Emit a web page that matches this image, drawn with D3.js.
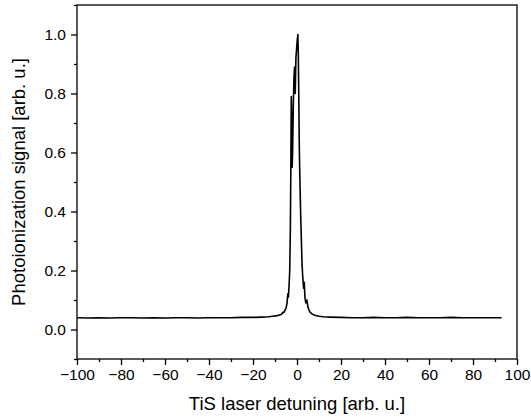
<!DOCTYPE html>
<html>
<head>
<meta charset="utf-8">
<script src="https://cdn.jsdelivr.net/npm/d3@7"></script>
<style>
  html, body { margin: 0; padding: 0; background: #fff; }
  svg { display: block; font-family: "Liberation Sans", Arial, sans-serif; }
</style>
</head>
<body>
<svg id="chart" width="531" height="418"></svg>
<script>
// Detuning (x) and signal (y)
const detuning = [
  -100, -95, -90, -85, -80, -75, -70, -65, -60, -55, -50, -45, -40, -35, -30, -25,
  -20, -16, -13, -11, -9, -8, -7, -6.5, -6, -5.5, -5, -4.5, -4.2, -3.9, -3.6, -3.3,
  -3.0, -2.8, -2.6, -2.4, -2.2, -2.0, -1.7, -1.4, -1.1, -0.8, -0.5, -0.2, 0.1, 0.4,
  0.6, 0.8, 1.0, 1.2, 1.4, 1.7, 2.0, 2.3, 2.6, 3.0, 3.3, 3.6, 4.0, 4.5, 5, 5.5,
  6, 7, 8, 10, 12, 15, 20, 25, 30, 35, 40, 45, 50, 55, 60, 65, 70, 75, 80, 85, 90, 93
];
const signal = [
  0.040, 0.039, 0.040, 0.039, 0.040, 0.040, 0.039, 0.040, 0.039, 0.040, 0.040, 0.039, 0.040, 0.040, 0.040, 0.041,
  0.041, 0.042, 0.043, 0.045, 0.047, 0.049, 0.052, 0.058, 0.057, 0.065, 0.072, 0.090, 0.120, 0.110, 0.150, 0.200,
  0.350, 0.550, 0.790, 0.700, 0.550, 0.600, 0.750, 0.850, 0.890, 0.800, 0.920, 0.950, 0.980, 1.000,
  0.930, 0.800, 0.650, 0.550, 0.480, 0.380, 0.300, 0.220, 0.180, 0.140, 0.160, 0.110, 0.090, 0.100, 0.075, 0.065,
  0.058, 0.052, 0.048, 0.045, 0.043, 0.042, 0.041, 0.040, 0.040, 0.041, 0.040, 0.040, 0.041, 0.040, 0.040, 0.040, 0.041, 0.040, 0.040, 0.040, 0.040, 0.040
];
const xMajorTicks = [-100, -80, -60, -40, -20, 0, 20, 40, 60, 80, 100];
const xMinorTicks = [-90, -70, -50, -30, -10, 10, 30, 50, 70, 90];
const yMajorTicks = [0.0, 0.2, 0.4, 0.6, 0.8, 1.0];
const yMinorTicks = [-0.1, 0.1, 0.3, 0.5, 0.7, 0.9, 1.1];
const xTitle = "TiS laser detuning [arb. u.]";
const yTitle = "Photoionization signal [arb. u.]";

const svg = d3.select("#chart");
const mLeft = 77, mRight = 517, mTop = 5, mBottom = 359;

const x = d3.scaleLinear().domain([-100, 100]).range([mLeft, mRight]);
const y = d3.scaleLinear().domain([-0.1, 1.1]).range([mBottom, mTop]);

// data line
const data = detuning.map((d, i) => [d, signal[i]]);
svg.append("path")
  .datum(data)
  .attr("fill", "none")
  .attr("stroke", "#000")
  .attr("stroke-width", 1.6)
  .attr("stroke-linejoin", "round")
  .attr("d", d3.line().x(d => x(d[0])).y(d => y(d[1])));

// frame
svg.append("rect")
  .attr("x", mLeft).attr("y", mTop)
  .attr("width", mRight - mLeft).attr("height", mBottom - mTop)
  .attr("fill", "none").attr("stroke", "#000").attr("stroke-width", 1.3);

const tickFont = 15.5;
const fam = "Liberation Sans, Arial, sans-serif";

// x axis major
const xAx = svg.append("g").attr("transform", `translate(0,${mBottom})`)
  .call(d3.axisBottom(x).tickValues(xMajorTicks).tickSize(6).tickPadding(4).tickSizeOuter(0));
xAx.select(".domain").remove();
xAx.selectAll("text").attr("font-size", tickFont).attr("font-family", fam).attr("fill", "#000");
xAx.selectAll("line").attr("stroke-width", 1.3);
const xAxm = svg.append("g").attr("transform", `translate(0,${mBottom})`)
  .call(d3.axisBottom(x).tickValues(xMinorTicks).tickSize(3).tickFormat("").tickSizeOuter(0));
xAxm.select(".domain").remove();
xAxm.selectAll("line").attr("stroke-width", 1.3);

// y axis major
const yAx = svg.append("g").attr("transform", `translate(${mLeft},0)`)
  .call(d3.axisLeft(y).tickValues(yMajorTicks).tickFormat(d3.format(".1f")).tickSize(6).tickPadding(5).tickSizeOuter(0));
yAx.select(".domain").remove();
yAx.selectAll("text").attr("font-size", tickFont).attr("font-family", fam).attr("fill", "#000");
yAx.selectAll("line").attr("stroke-width", 1.3);
const yAxm = svg.append("g").attr("transform", `translate(${mLeft},0)`)
  .call(d3.axisLeft(y).tickValues(yMinorTicks).tickSize(3).tickFormat("").tickSizeOuter(0));
yAxm.select(".domain").remove();
yAxm.selectAll("line").attr("stroke-width", 1.3);

// titles
svg.append("text")
  .attr("x", (mLeft + mRight) / 2).attr("y", 410)
  .attr("text-anchor", "middle").attr("font-size", 18.5).attr("fill", "#000")
  .text(xTitle);
svg.append("text")
  .attr("transform", `translate(25,${(mTop + mBottom) / 2}) rotate(-90)`)
  .attr("text-anchor", "middle").attr("font-size", 18.5).attr("fill", "#000")
  .text(yTitle);
</script>
</body>
</html>
